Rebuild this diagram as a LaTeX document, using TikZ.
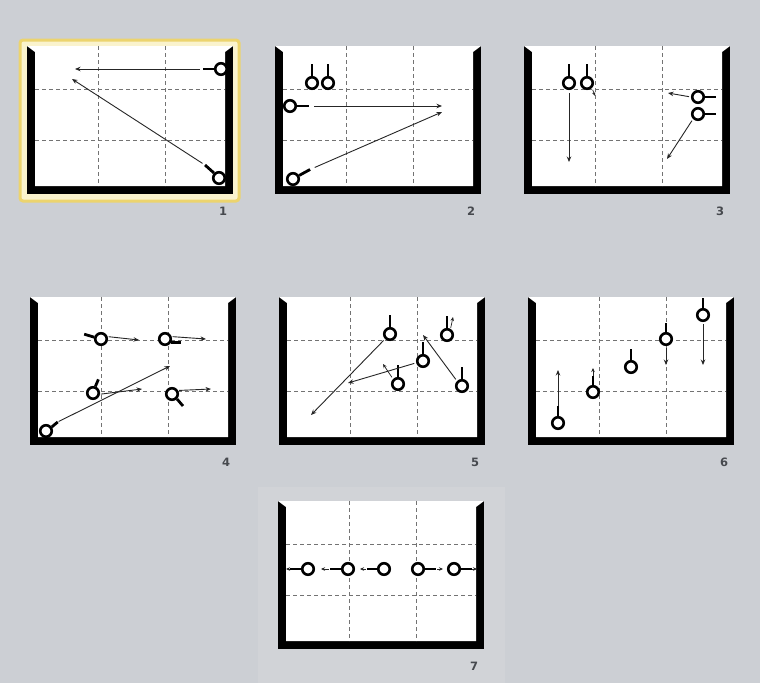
\documentclass[tikz,border=0pt]{standalone}
\usepackage{fontspec}
\setsansfont{DejaVu Sans}
\usetikzlibrary{arrows.meta,calc}

\definecolor{bggray}{RGB}{204,207,212}
\definecolor{bglight}{RGB}{209,211,215}
\definecolor{hlfill}{RGB}{250,243,205}
\definecolor{hlline}{RGB}{236,212,110}
\definecolor{numgray}{RGB}{70,73,78}

\begin{document}
\begin{tikzpicture}[
    x=1pt, y=-1pt,
    player/.style={circle, draw, fill=white, line width=2.6pt, minimum size=11.5pt, inner sep=0pt},
    stick/.style={line width=2.8pt},
    move/.style={-{Stealth[length=5.5pt,width=4.5pt]}, line width=0.9pt, black!85},
    nudge/.style={-{Stealth[length=4pt,width=3.5pt]}, line width=0.7pt, black!85},
    gridline/.style={dash pattern=on 4pt off 3pt, line width=0.8pt, black!55},
    num/.style={font=\fontsize{11.5}{11.5}\selectfont\sffamily\bfseries, text=numgray}
]
\useasboundingbox (0,0) rectangle (760,683);
\fill[bggray] (0,0) rectangle (760,683);
\fill[bglight] (258,487) rectangle (505,683);

% highlight on the first slide
\draw[hlline, fill=hlfill, line width=3pt, rounded corners=3pt] (20,40) rectangle (239,201);

% Slides
\foreach \px/\py/\num in {27/46/1, 275/46/2, 524/46/3, 30/297/4, 279/297/5, 528/297/6, 278/501/7} {
    \fill[black] (\px,\py) rectangle ++(206,148);
    \fill[white] (\px,\py) -- ++(206,0) -- ++(-8,6) -- ++(0,134) -- ++(-190,0) -- ++(0,-134) -- cycle;
    \draw[gridline] (\px+71,\py) -- (\px+71,\py+140);
    \draw[gridline] (\px+138,\py) -- (\px+138,\py+140);
    \draw[gridline] (\px+8,\py+43) -- (\px+198,\py+43);
    \draw[gridline] (\px+8,\py+94) -- (\px+198,\py+94);
    \node[num] (num\num) at (\px+196,\py+165) {\num};
}

% Slide 1
\node[player] (p1a) at (221,69) {};
\node[player] (p1b) at (219,178) {};
\draw[stick] (p1a.west) -- ++(-11,0) coordinate (p1a-end);
\draw[stick] (p1b.135) -- ++(-9,-8) coordinate (p1b-end);
\coordinate (t1a) at (75,69);
\coordinate (t1b) at (72,79);
\draw[move, shorten <=3pt] (p1a-end) -- (t1a);
\draw[move, shorten <=3pt] (p1b-end) -- (t1b);

% Slide 2
\node[player] (p2a) at (312,83) {};
\node[player] (p2b) at (328,83) {};
\node[player] (p2c) at (290,106) {};
\node[player] (p2d) at (293,179) {};
\draw[stick] (p2a.north) -- ++(0,-12);
\draw[stick] (p2b.north) -- ++(0,-12);
\draw[stick] (p2c.east) -- ++(12,0) coordinate (p2c-end);
\draw[stick] (p2d.30) -- ++(11,-6) coordinate (p2d-end);
\coordinate (t2c) at (442,106);
\coordinate (t2d) at (442,112);
\draw[move, shorten <=5pt] (p2c-end) -- (t2c);
\draw[move, shorten <=5pt] (p2d-end) -- (t2d);

% Slide 3
\node[player] (p3a) at (569,83) {};
\node[player] (p3b) at (587,83) {};
\node[player] (p3c) at (698,97) {};
\node[player] (p3d) at (698,114) {};
\draw[stick] (p3a.north) -- ++(0,-12);
\draw[stick] (p3b.north) -- ++(0,-12);
\draw[stick] (p3c.east) -- ++(11,0);
\draw[stick] (p3d.east) -- ++(11,0);
\coordinate (t3a) at (569,162);
\coordinate (t3b) at (595,96);
\coordinate (t3c) at (668,93);
\coordinate (t3d) at (667,159);
\draw[move, shorten <=3pt] (p3a.south) -- (t3a);
\draw[nudge, shorten <=2pt] (p3b.-45) -- (t3b);
\draw[move, shorten <=2pt] (p3c.west) -- (t3c);
\draw[move, shorten <=2pt] (p3d.-135) -- (t3d);

% Slide 4
\node[player] (p4a) at (101,339) {};
\node[player] (p4b) at (165,339) {};
\node[player] (p4c) at (93,393) {};
\node[player] (p4d) at (172,394) {};
\node[player] (p4e) at (46,431) {};
\draw[stick] (p4a.165) -- ++(-10,-3);
\draw[stick] (p4b.-30) -- ++(10,0);
\draw[stick] (p4c.70) -- ++(3,-7);
\draw[stick] (p4d.-45) -- ++(6,7);
\draw[stick] (p4e.35) -- ++(6,-5) coordinate (p4e-end);
\coordinate (t4a) at (139,340);
\coordinate (t4b) at (206,339);
\coordinate (t4c) at (142,389);
\coordinate (t4d) at (211,389);
\coordinate (t4e) at (170,366);
\draw[move, shorten <=1pt] (p4a.20) -- (t4a);
\draw[move, shorten <=1pt] (p4b.20) -- (t4b);
\draw[move, shorten <=1pt] (p4c.-10) -- (t4c);
\draw[move, shorten <=1pt] (p4d.30) -- (t4d);
\draw[move, shorten <=1pt] (p4e-end) -- (t4e);

% Slide 5
\node[player] (p5a) at (390,334) {};
\node[player] (p5b) at (447,335) {};
\node[player] (p5c) at (423,361) {};
\node[player] (p5d) at (398,384) {};
\node[player] (p5e) at (462,386) {};
\foreach \p in {p5a,p5b,p5c,p5d,p5e}
    \draw[stick] (\p.north) -- ++(0,-12);
\coordinate (t5a) at (311,415);
\coordinate (t5b) at (453,317);
\coordinate (t5c) at (348,383);
\coordinate (t5d) at (383,364);
\coordinate (t5e) at (423,335);
\draw[move, shorten <=2pt] (p5a.-135) -- (t5a);
\draw[nudge, shorten <=1pt] (p5b.60) -- (t5b);
\draw[move, shorten <=2pt] (p5c.-165) -- (t5c);
\draw[nudge, shorten <=2pt] (p5d.135) -- (t5d);
\draw[move, shorten <=2pt] (p5e.135) -- (t5e);

% Slide 6
\node[player] (p6a) at (558,423) {};
\node[player] (p6b) at (593,392) {};
\node[player] (p6c) at (631,367) {};
\node[player] (p6d) at (666,339) {};
\node[player] (p6e) at (703,315) {};
\draw[stick] (p6a.north) -- ++(0,-10) coordinate (p6a-end);
\draw[stick] (p6b.north) -- ++(0,-9) coordinate (p6b-end);
\draw[stick] (p6c.north) -- ++(0,-11);
\draw[stick] (p6d.north) -- ++(0,-9);
\draw[stick] (p6e.north) -- ++(0,-10);
\coordinate (t6a) at (558,370);
\coordinate (t6b) at (593,368);
\coordinate (t6d) at (666,365);
\coordinate (t6e) at (703,365);
\draw[move] (p6a-end) -- (t6a);
\draw[nudge] (p6b-end) -- (t6b);
\draw[move, shorten <=2pt] (p6d.south) -- (t6d);
\draw[move, shorten <=2pt] (p6e.south) -- (t6e);

% Slide 7
\node[player] (p7a) at (308,569) {};
\node[player] (p7b) at (348,569) {};
\node[player] (p7c) at (384,569) {};
\node[player] (p7d) at (418,569) {};
\node[player] (p7e) at (454,569) {};
\draw[stick] (p7a.west) -- ++(-11,0) coordinate (p7a-end);
\draw[stick] (p7b.west) -- ++(-11,0) coordinate (p7b-end);
\draw[stick] (p7c.west) -- ++(-10,0) coordinate (p7c-end);
\draw[stick] (p7d.east) -- ++(11,0) coordinate (p7d-end);
\draw[stick] (p7e.east) -- ++(11,0) coordinate (p7e-end);
\coordinate (t7a) at (286,569);
\coordinate (t7b) at (321,569);
\coordinate (t7c) at (360,569);
\coordinate (t7d) at (443,569);
\coordinate (t7e) at (477,569);
\draw[nudge] (p7a-end) -- (t7a);
\draw[nudge, shorten <=1pt] (p7b-end) -- (t7b);
\draw[nudge, shorten <=1pt] (p7c-end) -- (t7c);
\draw[nudge, shorten <=1pt] (p7d-end) -- (t7d);
\draw[nudge] (p7e-end) -- (t7e);

\end{tikzpicture}
\end{document}
